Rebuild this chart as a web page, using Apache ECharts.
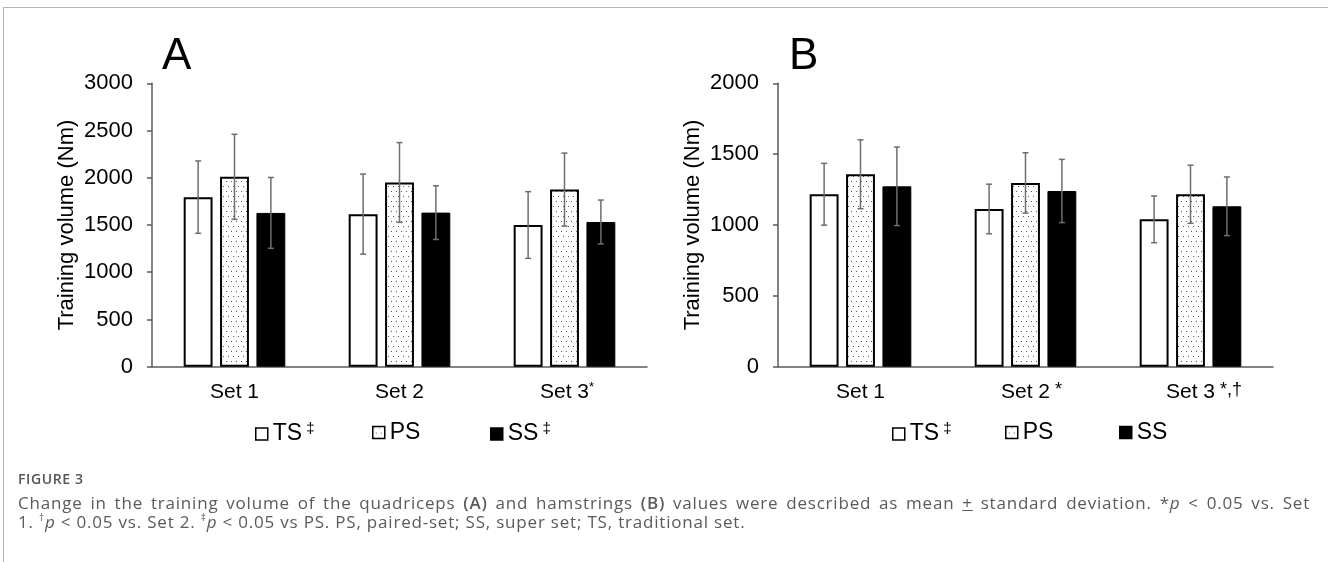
<!DOCTYPE html>
<html>
<head>
<meta charset="utf-8">
<script src="https://cdn.jsdelivr.net/npm/echarts@6/dist/echarts.min.js"></script>
<style>
  html, body { margin: 0; padding: 0; background: #fff; }
  .fig { position: relative; width: 1328px; height: 562px; overflow: hidden; }
  .frame {
    position: absolute; left: 3px; top: 7px; right: -2px; bottom: -2px;
    border-left: 1px solid #b5b5b5; border-top: 1px solid #b5b5b5;
  }
  #chart { position: absolute; left: 0; top: 0; width: 1328px; height: 562px; }
  .cap {
    position: absolute; left: 18px; width: 1292px;
    font-family: "Open Sans", "Noto Sans", sans-serif; color: #5a5a5a;
  }
  .cap-title { top: 470px; font-size: 14px; font-weight: 600; line-height: 18px; color: #555; letter-spacing: 0.6px; }
  .cap-l1 { top: 493px; font-size: 17px; line-height: 20px; letter-spacing: 0.8px; text-align: justify; text-align-last: justify; white-space: nowrap; }
  .cap-l2 { top: 512px; font-size: 17px; line-height: 20px; letter-spacing: 0.8px; }
  .cap sup { font-size: 10px; vertical-align: 7px; line-height: 0; }
  .cap b { font-weight: 600; }
</style>
</head>
<body>
<div class="fig">
  <div class="frame"></div>
  <div id="chart"></div>
  <div class="cap cap-title">FIGURE 3</div>
  <div class="cap cap-l1">Change in the training volume of the quadriceps <b>(A)</b> and hamstrings <b>(B)</b> values were described as mean <u>+</u> standard deviation. *<i>p</i> &lt; 0.05 vs. Set</div>
  <div class="cap cap-l2">1. <sup>†</sup><i>p</i> &lt; 0.05 vs. Set 2. <sup>‡</sup><i>p</i> &lt; 0.05 vs PS. PS, paired-set; SS, super set; TS, traditional set.</div>
</div>
<script>
// categories and marks
var sets = ['Set 1', 'Set 2', 'Set 3'];
var setMarksA = ['', '', '*'];
var setMarksB = ['', '*', '*,\u2020'];
var groups = ['TS', 'PS', 'SS'];
var legendMarksA = ['\u2021', '', '\u2021'];
var legendMarksB = ['\u2021', '', ''];

// A: quadriceps (Nm), mean and SD
var tsMeanA = [1795, 1615, 1500];
var tsSdA = [383, 424, 353];
var psMeanA = [2010, 1950, 1875];
var psSdA = [450, 422, 386];
var ssMeanA = [1628, 1631, 1532];
var ssSdA = [375, 284, 232];

// B: hamstrings (Nm), mean and SD
var tsMeanB = [1217, 1113, 1040];
var tsSdB = [218, 175, 165];
var psMeanB = [1358, 1297, 1217];
var psSdB = [243, 213, 205];
var ssMeanB = [1273, 1240, 1132];
var ssSdB = [277, 223, 207];

var yTicksA = [0, 500, 1000, 1500, 2000, 2500, 3000];
var yTicksB = [0, 500, 1000, 1500, 2000];

var FONT = '"Liberation Sans", Arial, sans-serif';
var AXIS_COLOR = '#5a5a5a';
var BAR_W = 0.175, BAR_GAP = 0.26;

function dotPattern () {
  var c = document.createElement('canvas');
  c.width = 10; c.height = 10;
  var ctx = c.getContext('2d');
  ctx.fillStyle = '#fff';
  ctx.fillRect(0, 0, 10, 10);
  ctx.fillStyle = '#5a5a5a';
  ctx.fillRect(1, 1, 1, 1);
  ctx.fillRect(6, 1, 1, 1);
  ctx.fillRect(3, 6, 1, 1);
  ctx.fillRect(8, 6, 1, 1);
  return c;
}
var dots = { image: dotPattern(), repeat: 'repeat' };

var styles = [
  { color: '#fff', borderColor: '#000', borderWidth: 2 },
  { color: dots, borderColor: '#000', borderWidth: 2 },
  { color: '#000', borderColor: '#000', borderWidth: 1 }
];

var measure = document.createElement('canvas').getContext('2d');
function textW (s, size) {
  measure.font = size + 'px "Liberation Sans"';
  return measure.measureText(s).width;
}

function xAxisOf (gridIndex, marks, supSize, lead) {
  var rich = {
    base: { fontSize: 21, lineHeight: 24, fontFamily: FONT, color: '#000' },
    sup: { fontSize: supSize, lineHeight: supSize, verticalAlign: 'top', fontFamily: FONT, color: '#000' }
  };
  marks.forEach(function (m, i) {
    rich['pad' + i] = { width: m ? textW(lead + m, supSize) : 0, lineHeight: 24 };
  });
  return {
    type: 'category',
    gridIndex: gridIndex,
    data: sets,
    axisTick: { show: false },
    axisLine: { lineStyle: { color: AXIS_COLOR, width: 1.5 } },
    axisLabel: {
      margin: 14,
      interval: 0,
      rich: rich,
      formatter: function (v, i) {
        if (!marks[i]) return '{base|' + v + '}';
        return '{pad' + i + '|}{base|' + v + '}{sup|' + lead + marks[i] + '}';
      }
    }
  };
}

function yAxisOf (gridIndex, ticks) {
  return {
    type: 'value',
    gridIndex: gridIndex,
    min: ticks[0],
    max: ticks[ticks.length - 1],
    interval: ticks[1] - ticks[0],
    name: 'Training volume (Nm)',
    nameLocation: 'middle',
    nameGap: 74,
    nameTextStyle: { fontSize: 22, color: '#000', fontFamily: FONT },
    axisLine: { show: true, lineStyle: { color: AXIS_COLOR, width: 1.5 } },
    axisTick: { show: true, length: 5, lineStyle: { color: AXIS_COLOR, width: 1.5 } },
    axisLabel: {
      fontSize: 22, color: '#000', margin: 19, fontFamily: FONT,
      formatter: function (v) { return String(v); }
    },
    splitLine: { show: false }
  };
}

function barSeries (axisIndex, means) {
  return means.map(function (data, k) {
    return {
      name: groups[k],
      type: 'bar',
      xAxisIndex: axisIndex,
      yAxisIndex: axisIndex,
      barWidth: (BAR_W * 100) + '%',
      barGap: (BAR_GAP * 100) + '%',
      itemStyle: styles[k],
      emphasis: { disabled: true },
      data: data
    };
  });
}

function errSeries (axisIndex, means, sds) {
  var data = [];
  means.forEach(function (arr, k) {
    arr.forEach(function (m, ci) {
      data.push([ci, m, sds[k][ci], k]);
    });
  });
  return {
    type: 'custom',
    xAxisIndex: axisIndex,
    yAxisIndex: axisIndex,
    z: 5,
    silent: true,
    encode: { x: 0, y: 1 },
    renderItem: function (params, api) {
      var ci = api.value(0), m = api.value(1), sd = api.value(2), k = api.value(3);
      var band = api.size([1, 0])[0];
      var bw = band * BAR_W;
      var x = api.coord([ci, m])[0] + (k - 1) * bw * (1 + BAR_GAP);
      var yTop = api.coord([ci, m + sd])[1];
      var yBot = api.coord([ci, m - sd])[1];
      var st = { stroke: '#6e6e6e', lineWidth: 1.5 };
      return {
        type: 'group',
        children: [
          { type: 'line', shape: { x1: x, y1: yTop, x2: x, y2: yBot }, style: st },
          { type: 'line', shape: { x1: x - 3, y1: yTop, x2: x + 3, y2: yTop }, style: st },
          { type: 'line', shape: { x1: x - 3, y1: yBot, x2: x + 3, y2: yBot }, style: st }
        ]
      };
    },
    data: data
  };
}

function legendsOf (lefts, marks) {
  return groups.map(function (g, k) {
    return {
      left: lefts[k],
      top: 416,
      icon: 'rect',
      itemWidth: 12,
      itemHeight: 12,
      itemStyle: { borderWidth: 1.5 },
      selectedMode: false,
      data: [g],
      textStyle: {
        fontSize: 23, color: '#000', fontFamily: FONT,
        rich: {
          base: { fontSize: 23, lineHeight: 26, fontFamily: FONT, color: '#000' },
          sup: { fontSize: 15, lineHeight: 15, verticalAlign: 'top', fontFamily: FONT, color: '#000' }
        }
      },
      formatter: function (name) {
        return '{base|' + name + '}' + (marks[k] ? '{sup| ' + marks[k] + '}' : '');
      }
    };
  });
}

var meansA = [tsMeanA, psMeanA, ssMeanA], sdsA = [tsSdA, psSdA, ssSdA];
var meansB = [tsMeanB, psMeanB, ssMeanB], sdsB = [tsSdB, psSdB, ssSdB];

var chart = echarts.init(document.getElementById('chart'));
chart.setOption({
  animation: false,
  grid: [
    { left: 152, right: 681, top: 83.3, bottom: 195.3 },
    { left: 778, right: 55, top: 83.3, bottom: 195.3 }
  ],
  xAxis: [xAxisOf(0, setMarksA, 13, ''), xAxisOf(1, setMarksB, 18, ' ')],
  yAxis: [yAxisOf(0, yTicksA), yAxisOf(1, yTicksB)],
  legend: legendsOf([250, 367, 485], legendMarksA).concat(legendsOf([887, 1000, 1114], legendMarksB)),
  graphic: [
    { type: 'text', left: 162, top: 35, style: { text: 'A', font: '44px ' + FONT, fill: '#000' } },
    { type: 'text', left: 789, top: 35, style: { text: 'B', font: '44px ' + FONT, fill: '#000' } }
  ],
  series: barSeries(0, meansA)
    .concat(barSeries(1, meansB))
    .concat([errSeries(0, meansA, sdsA), errSeries(1, meansB, sdsB)])
});
</script>
</body>
</html>
